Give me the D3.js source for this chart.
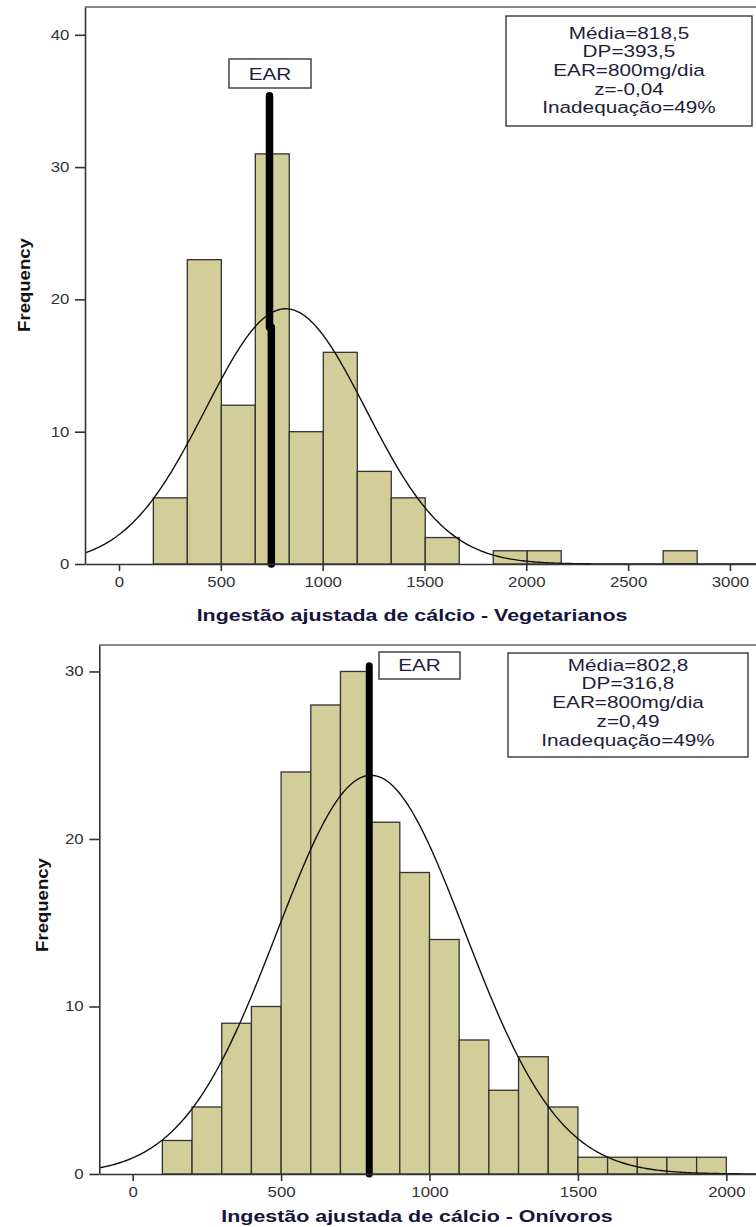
<!DOCTYPE html>
<html>
<head>
<meta charset="utf-8">
<script src="https://cdn.jsdelivr.net/npm/d3@7"></script>
<style>
html, body { margin: 0; padding: 0; background: #fff; }
svg { display: block; font-family: "Liberation Sans", Arial, sans-serif; }
</style>
</head>
<body>
<script>
// --- Vegetarianos ---
var vegCounts = [5, 23, 12, 31, 10, 16, 7, 5, 2, 0, 1, 1, 0, 0, 0, 1];
var vegBinStart = 168.6, vegBinWidth = 166.9;
var vegMean = 818.5, vegSD = 393.5;
var vegStats = ["Média=818,5", "DP=393,5", "EAR=800mg/dia", "z=-0,04", "Inadequação=49%"];
var vegEar = [{ x: 739, y0: 17.9, y1: 35.4 }, { x: 748, y0: 0, y1: 17.9 }];
var vegXTicks = [0, 500, 1000, 1500, 2000, 2500, 3000];
var vegYTicks = [0, 10, 20, 30, 40];
var vegTitle = "Ingestão ajustada de cálcio - Vegetarianos";

// --- Onívoros ---
var oniCounts = [2, 4, 9, 10, 24, 28, 30, 21, 18, 14, 8, 5, 7, 4, 1, 1, 1, 1, 1];
var oniBinStart = 100, oniBinWidth = 100;
var oniMean = 802.8, oniSD = 316.8;
var oniStats = ["Média=802,8", "DP=316,8", "EAR=800mg/dia", "z=0,49", "Inadequação=49%"];
var oniEar = [{ x: 797, y0: 0, y1: 30.34 }];
var oniXTicks = [0, 500, 1000, 1500, 2000];
var oniYTicks = [0, 10, 20, 30];
var oniTitle = "Ingestão ajustada de cálcio - Onívoros";

var W = 756, H = 1227;
var SX = 1.22;   // the original glyphs are drawn wide

var svg = d3.select("body").append("svg")
    .attr("width", W)
    .attr("height", H);

function stretched(sel, x, y, sx) {
  return sel.attr("x", 0).attr("y", 0)
    .attr("transform", "translate(" + x + "," + y + ") scale(" + sx + ",1)");
}

function panel(p) {
  var g = svg.append("g");

  var x = d3.scaleLinear().domain(p.xDomain).range([p.left, W]);
  var y = d3.scaleLinear().domain(p.yDomain).range([p.bottom, p.top]);

  var bins = p.counts.map(function(c, i) {
    return { x0: p.binStart + i * p.binWidth, x1: p.binStart + (i + 1) * p.binWidth, n: c };
  }).filter(function(d) { return d.n > 0 });

  g.append("g").selectAll("rect")
    .data(bins)
    .enter().append("rect")
      .attr("x", function(d) { return x(d.x0) })
      .attr("y", function(d) { return y(d.n) })
      .attr("width", function(d) { return x(d.x1) - x(d.x0) })
      .attr("height", function(d) { return y(0) - y(d.n) })
      .style("fill", "#d3ce99")
      .style("stroke", "#333")
      .style("stroke-width", 1.3);

  // normal curve fitted to mean / sd
  var total = d3.sum(p.counts);
  var k = total * p.binWidth / (p.sd * Math.sqrt(2 * Math.PI));
  var pts = d3.range(0, 401).map(function(i) {
    var v = p.xDomain[0] + (p.xDomain[1] - p.xDomain[0]) * i / 400;
    var z = (v - p.mean) / p.sd;
    return [v, k * Math.exp(-z * z / 2)];
  });
  g.append("path")
    .datum(pts)
    .attr("d", d3.line().x(function(d) { return x(d[0]) }).y(function(d) { return y(d[1]) }))
    .style("fill", "none")
    .style("stroke", "#111")
    .style("stroke-width", 1.4);

  // EAR line
  g.append("g").selectAll("line")
    .data(p.ear)
    .enter().append("line")
      .attr("x1", function(d) { return x(d.x) })
      .attr("x2", function(d) { return x(d.x) })
      .attr("y1", function(d) { return y(d.y0) })
      .attr("y2", function(d) { return y(d.y1) })
      .style("stroke", "#000")
      .style("stroke-width", p.earWidth)
      .style("stroke-linecap", "round");

  // EAR label box
  var eb = p.earBox;
  g.append("rect")
    .attr("x", eb[0]).attr("y", eb[1]).attr("width", eb[2] - eb[0]).attr("height", eb[3] - eb[1])
    .style("fill", "#fff").style("stroke", "#444").style("stroke-width", 1.5);
  stretched(g.append("text"), (eb[0] + eb[2]) / 2, eb[3] - 8, SX)
    .style("text-anchor", "middle")
    .style("font-size", "17px")
    .style("fill", "#1e1e3c")
    .text("EAR");

  // stats box
  var lb = p.statBox;
  g.append("rect")
    .attr("x", lb[0]).attr("y", lb[1]).attr("width", lb[2] - lb[0]).attr("height", lb[3] - lb[1])
    .style("fill", "#fff").style("stroke", "#444").style("stroke-width", 1.5);
  p.stats.forEach(function(s, i) {
    stretched(g.append("text"), (lb[0] + lb[2]) / 2, p.statBase + i * 18.7, SX)
      .style("text-anchor", "middle")
      .style("font-size", "17px")
      .style("fill", "#1e1e3c")
      .text(s);
  });

  // frame top
  g.append("line")
    .attr("x1", p.left).attr("x2", W).attr("y1", p.top).attr("y2", p.top)
    .style("stroke", "#888").style("stroke-width", 2);

  // axes
  var ax = g.append("g")
    .attr("transform", "translate(0," + p.bottom + ")")
    .call(d3.axisBottom(x).tickValues(p.xTicks).tickFormat(d3.format("d"))
      .tickSize(7).tickSizeOuter(0).tickPadding(6));
  var ay = g.append("g")
    .attr("transform", "translate(" + p.left + ",0)")
    .call(d3.axisLeft(y).tickValues(p.yTicks).tickFormat(d3.format("d"))
      .tickSize(10).tickSizeOuter(0).tickPadding(3));

  [ax, ay].forEach(function(a) {
    a.attr("font-family", null).attr("font-size", null).style("color", "#333");
    a.select(".domain").style("stroke-width", 1.6);
    a.selectAll(".tick line").style("stroke-width", 1.6);
    a.selectAll(".tick text")
      .style("font-size", "14px")
      .style("fill", "#333")
      .attr("transform", "scale(1.2,1)");
  });

  // axis titles
  stretched(g.append("text"), p.titleX, p.titleY, 1.26)
    .style("text-anchor", "middle")
    .style("font-size", "17px")
    .style("font-weight", "bold")
    .style("fill", "#14143c")
    .text(p.title);

  g.append("text")
    .attr("transform", "translate(" + p.freqX + "," + p.freqY + ") rotate(-90) scale(1.16,1)")
    .style("text-anchor", "middle")
    .style("font-size", "16px")
    .style("font-weight", "bold")
    .style("fill", "#111")
    .text("Frequency");
}

panel({
  counts: vegCounts, binStart: vegBinStart, binWidth: vegBinWidth,
  mean: vegMean, sd: vegSD, stats: vegStats, ear: vegEar,
  xTicks: vegXTicks, yTicks: vegYTicks, title: vegTitle,
  xDomain: [-167, 3128], yDomain: [0, 42.1],
  left: 85, top: 7, bottom: 564,
  earWidth: 7.5, earBox: [229, 59, 311, 88], statBox: [506, 16, 752, 126], statBase: 38.5,
  titleX: 412, titleY: 621, freqX: 30, freqY: 285
});

panel({
  counts: oniCounts, binStart: oniBinStart, binWidth: oniBinWidth,
  mean: oniMean, sd: oniSD, stats: oniStats, ear: oniEar,
  xTicks: oniXTicks, yTicks: oniYTicks, title: oniTitle,
  xDomain: [-112.5, 2100], yDomain: [0, 31.58],
  left: 99.3, top: 645, bottom: 1174,
  earWidth: 7, earBox: [379, 652, 460, 679], statBox: [508, 653, 748, 757], statBase: 670.7,
  titleX: 417, titleY: 1222, freqX: 48, freqY: 905
});
</script>
</body>
</html>
